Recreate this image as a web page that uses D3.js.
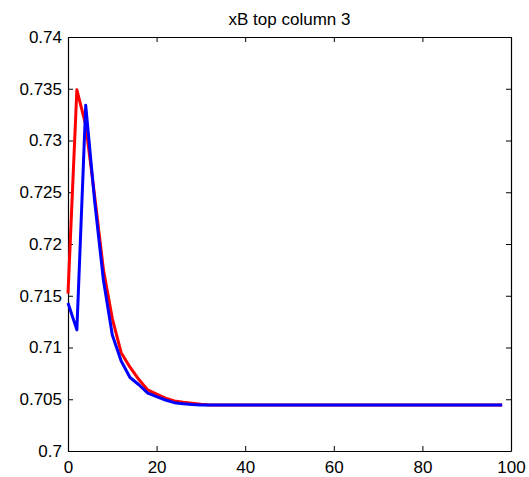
<!DOCTYPE html>
<html>
<head>
<meta charset="utf-8">
<script src="https://cdn.jsdelivr.net/npm/d3@7"></script>
<style>
  body { margin: 0; background: #fff; }
  svg { display: block; font-family: "Liberation Sans", Arial, Helvetica, sans-serif; }
</style>
</head>
<body>
<div id="chart"></div>
<script>
// Data (step index, xB value)
const steps = [0, 2, 4, 6, 8, 10, 12, 14, 16, 18, 20, 22, 24, 26, 28, 30, 32, 34, 36, 38,
    40, 42, 44, 46, 48, 50, 52, 54, 56, 58, 60, 62, 64, 66, 68, 70, 72, 74, 76, 78,
    80, 82, 84, 86, 88, 90, 92, 94, 96, 98];
const redValues = [0.7152, 0.7349, 0.7315, 0.7247, 0.7175, 0.7128, 0.7095, 0.7081, 0.7069, 0.7059,
    0.7055, 0.7051, 0.70483, 0.7047, 0.70462, 0.70452, 0.70445, 0.70445, 0.70445, 0.70445,
    0.70445, 0.70445, 0.70445, 0.70445, 0.70445, 0.70445, 0.70445, 0.70445, 0.70445, 0.70445,
    0.70445, 0.70445, 0.70445, 0.70445, 0.70445, 0.70445, 0.70445, 0.70445, 0.70445, 0.70445,
    0.70445, 0.70445, 0.70445, 0.70445, 0.70445, 0.70445, 0.70445, 0.70445, 0.70445, 0.70445];
const blueValues = [0.7143, 0.7117, 0.7334, 0.7242, 0.7165, 0.7112, 0.7087, 0.7071, 0.7064, 0.7056,
    0.70525, 0.70493, 0.70467, 0.70457, 0.7045, 0.70445, 0.70445, 0.70445, 0.70445, 0.70445,
    0.70445, 0.70445, 0.70445, 0.70445, 0.70445, 0.70445, 0.70445, 0.70445, 0.70445, 0.70445,
    0.70445, 0.70445, 0.70445, 0.70445, 0.70445, 0.70445, 0.70445, 0.70445, 0.70445, 0.70445,
    0.70445, 0.70445, 0.70445, 0.70445, 0.70445, 0.70445, 0.70445, 0.70445, 0.70445, 0.70445];
const xTicks = [0, 20, 40, 60, 80, 100];
const yTicks = [0.7, 0.705, 0.71, 0.715, 0.72, 0.725, 0.73, 0.735, 0.74];
const title = 'xB top column 3';

// Layout
const width = 529, height = 477;
const margin = { top: 37, right: 18, bottom: 26, left: 68 };
const plotW = width - margin.left - margin.right;
const plotH = height - margin.top - margin.bottom;

const svg = d3.select('#chart')
    .append('svg')
    .attr('width', width)
    .attr('height', height);

const g = svg.append('g')
    .attr('transform', `translate(${margin.left}, ${margin.top})`);

const x = d3.scaleLinear().domain([0, 100]).range([0, plotW]);
const y = d3.scaleLinear().domain([0.7, 0.74]).range([plotH, 0]);

// Axes with inward ticks, MATLAB style box
const fmt = d => String(+d.toFixed(3));

g.append('g')
    .attr('transform', `translate(0, ${plotH})`)
    .call(d3.axisBottom(x).tickValues(xTicks).tickSizeInner(-5).tickSizeOuter(0).tickPadding(10).tickFormat(d => d));
g.append('g')
    .call(d3.axisTop(x).tickValues(xTicks).tickSizeInner(-5).tickSizeOuter(0).tickFormat(''));
g.append('g')
    .call(d3.axisLeft(y).tickValues(yTicks).tickSizeInner(-5).tickSizeOuter(0).tickPadding(6).tickFormat(fmt));
g.append('g')
    .attr('transform', `translate(${plotW}, 0)`)
    .call(d3.axisRight(y).tickValues(yTicks).tickSizeInner(-5).tickSizeOuter(0).tickFormat(''));

g.selectAll('.domain').attr('stroke', '#000').attr('stroke-width', 1.2);
g.selectAll('.tick line').attr('stroke', '#000');
g.selectAll('.tick text')
    .attr('fill', '#000')
    .style('font-size', '17px')
    .style('font-family', '"Liberation Sans", Arial, sans-serif');

// Lines
const line = d3.line()
    .x(d => x(d[0]))
    .y(d => y(d[1]));

const series = [
    { values: redValues, color: '#ff0000' },
    { values: blueValues, color: '#0000ff' }
];

series.forEach(s => {
    g.append('path')
        .datum(steps.map((t, i) => [t, s.values[i]]))
        .attr('fill', 'none')
        .attr('stroke', s.color)
        .attr('stroke-width', 3)
        .attr('stroke-linejoin', 'round')
        .attr('d', line);
});

// Title
svg.append('text')
    .attr('x', margin.left + plotW / 2)
    .attr('y', 25)
    .attr('text-anchor', 'middle')
    .style('font-size', '17px')
    .text(title);
</script>
</body>
</html>
